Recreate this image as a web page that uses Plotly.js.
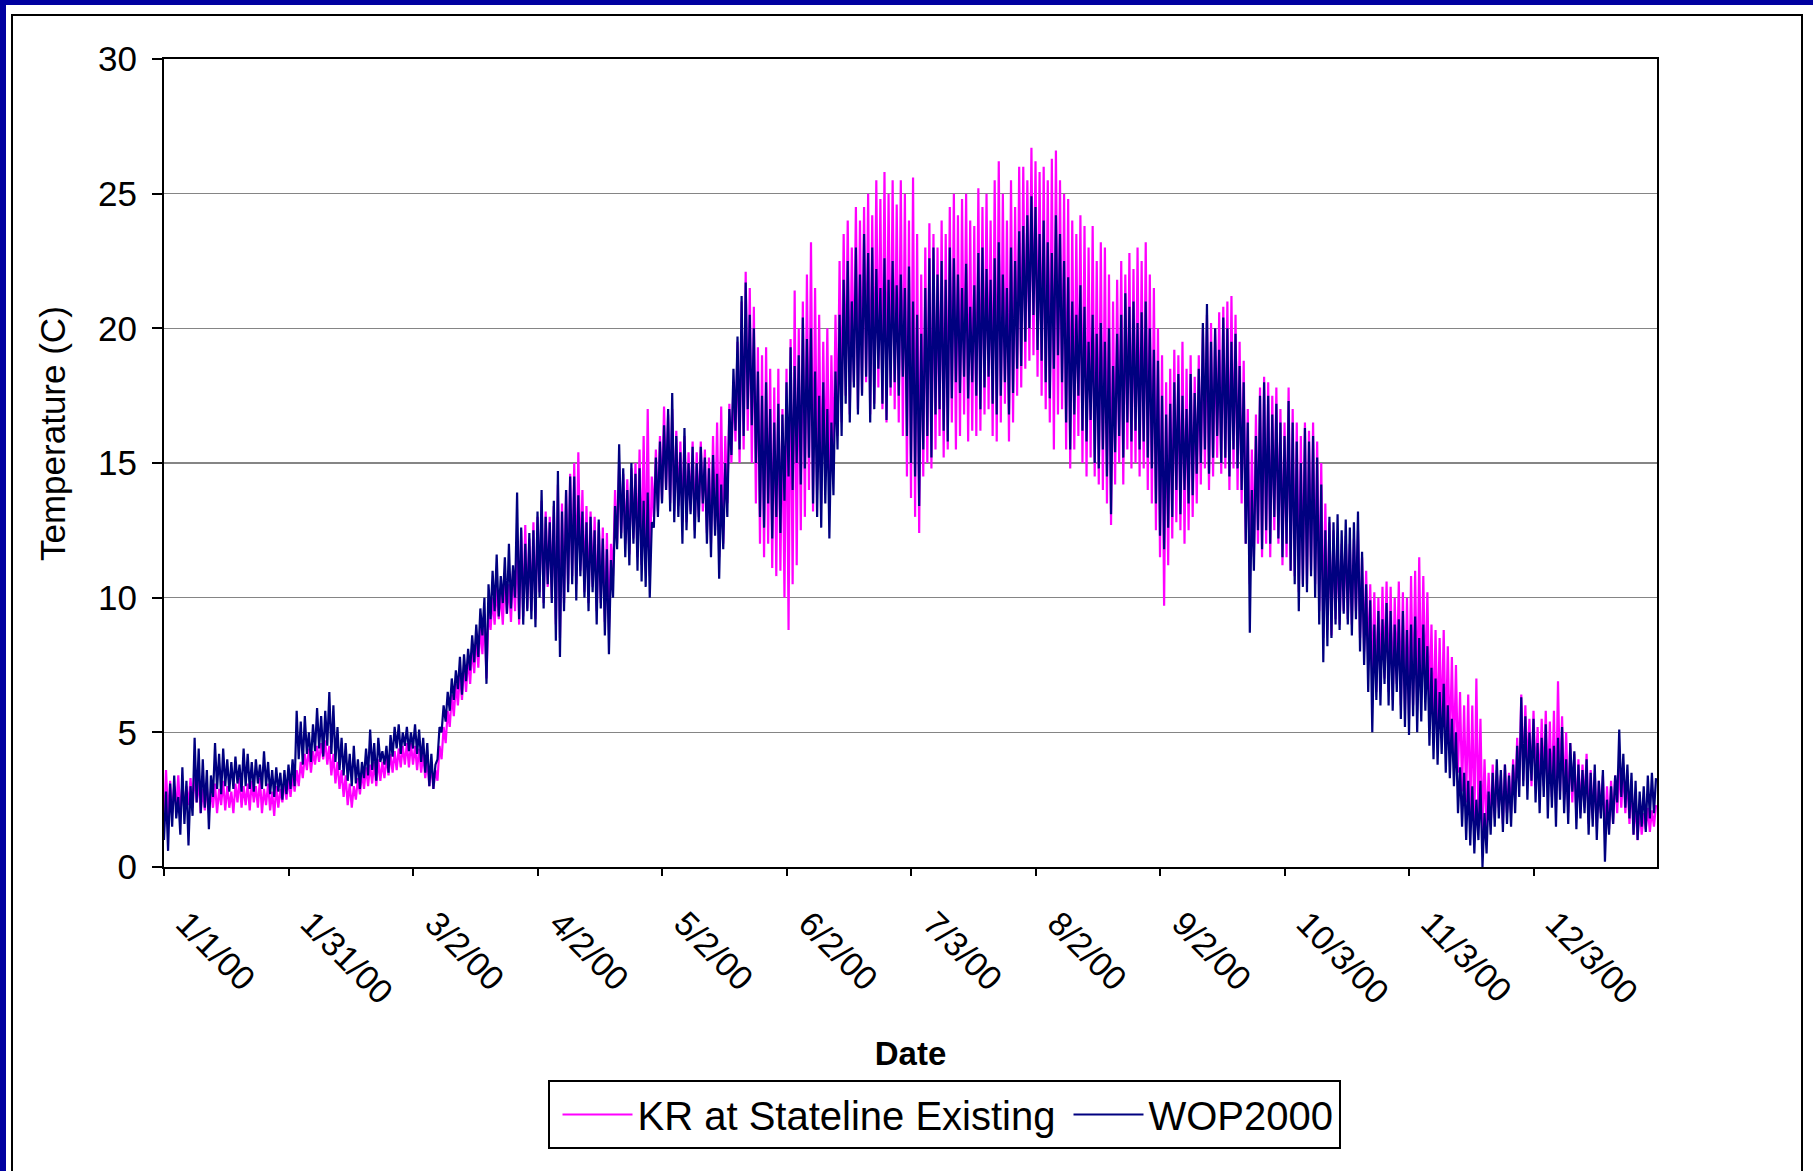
<!DOCTYPE html>
<html>
<head>
<meta charset="utf-8">
<script src="https://cdn.plot.ly/plotly-3.0.1.min.js"></script>
<style>html,body{margin:0;padding:0;background:#fff;}#chart{width:1813px;height:1171px;}</style>
</head>
<body>
<div id="chart"></div>
<script>
// ---- tick labels of the category axis (one tick every 30.5 days) ----
const tickLabels = ['1/1/00','1/31/00','3/2/00','4/2/00','5/2/00','6/2/00','7/3/00','8/2/00','9/2/00','10/3/00','11/3/00','12/3/00'];
const tickDays = [0,30.5,61,91.5,122,152.5,183,213.5,244,274.5,305,335.5];

// ---- WOP2000: daily low / high (deg C), day 0 = 1/1/00 ----
const wopLow = [
1.0,0.6,1.5,1.8,1.2,1.6,0.8,1.9,2.4,2.0,
2.2,1.4,2.6,2.9,2.7,3.0,2.8,2.9,3.1,2.8,
3.0,2.9,2.8,3.1,2.9,3.0,2.7,2.6,2.8,2.5,
2.7,2.9,3.0,4.0,3.8,4.2,3.9,4.3,4.4,4.1,
4.5,4.2,3.9,3.6,3.4,3.2,3.0,3.1,2.9,3.3,
3.4,3.6,3.2,3.9,3.8,3.5,4.1,4.4,4.2,4.5,
4.3,4.4,4.2,3.9,3.5,3.0,2.9,4.0,5.0,5.4,
5.8,6.2,6.6,6.4,6.9,7.3,7.6,7.8,8.6,6.8,
9.2,9.5,9.3,9.8,9.4,9.6,10.0,9.2,9.0,9.5,
9.2,8.9,10.0,9.6,10.5,9.8,8.4,7.8,9.5,10.2,
10.5,9.9,10.8,10.0,9.5,10.2,9.0,9.6,8.6,7.9,
10.0,11.8,12.2,11.5,11.2,12.0,11.0,10.6,10.4,10.0,
12.6,13.0,13.5,14.0,13.2,12.8,13.0,12.0,12.5,13.1,
12.2,12.8,13.5,12.0,11.5,12.3,10.7,11.8,13.0,15.3,
16.2,15.5,16.0,17.0,16.4,15.0,13.0,12.6,13.5,12.2,
13.0,12.4,13.6,14.5,14.0,15.0,14.2,14.8,15.2,13.5,
13.0,12.6,13.5,12.2,13.8,15.5,16.0,17.2,16.5,17.8,
16.8,17.5,18.2,16.5,17.0,18.5,17.2,16.6,17.8,18.0,
17.5,18.2,16.0,15.0,14.5,13.4,15.5,16.0,15.2,16.8,
17.0,16.2,15.8,17.4,18.0,17.6,18.2,17.4,18.0,17.5,
17.0,17.8,18.2,17.2,16.8,17.5,18.0,16.8,17.6,18.5,
18.6,19.5,20.0,20.5,19.2,18.8,18.0,17.4,18.5,19.0,
18.0,16.5,15.5,16.8,17.5,16.2,15.8,16.6,15.0,14.8,
15.5,14.5,13.1,15.4,16.0,15.2,16.5,15.8,16.2,15.5,
15.8,15.2,14.8,13.5,12.3,11.8,12.6,13.0,14.0,13.1,
14.0,13.5,13.8,14.6,15.0,15.5,14.6,15.2,16.0,15.0,
15.2,14.5,15.5,14.8,14.0,12.0,8.7,11.0,12.5,11.8,
12.5,12.0,13.0,12.2,11.5,12.0,11.0,10.5,9.5,10.4,
10.2,10.8,10.0,9.0,7.6,8.2,8.5,9.0,8.8,9.4,
9.0,8.6,9.2,8.0,7.5,6.5,5.0,6.2,6.0,6.8,
6.0,5.8,6.5,5.5,5.2,4.9,5.6,5.0,5.4,5.8,
4.5,4.0,3.8,4.2,3.5,3.3,3.0,2.0,1.5,1.0,
0.8,0.5,1.0,0.0,0.5,1.2,1.5,1.8,1.3,1.6,
1.5,2.0,2.6,3.0,2.5,3.2,2.4,2.0,2.6,1.8,
2.2,1.5,2.5,2.0,1.6,2.8,1.4,1.8,2.0,1.2,
1.5,1.0,1.8,0.2,1.2,1.6,2.4,2.6,2.2,1.8,
1.2,1.0,1.5,1.3,1.8,2.0];
const wopHigh = [
2.8,3.1,3.4,2.6,3.7,3.2,3.0,4.8,4.4,4.0,
3.6,3.4,4.6,4.2,4.4,4.0,3.9,4.1,3.8,4.4,
4.2,3.9,4.0,3.8,4.3,3.9,3.6,3.7,3.5,3.6,
3.8,4.0,5.8,5.4,5.6,5.0,5.3,5.9,5.6,5.8,
6.5,6.0,5.2,4.8,4.6,4.2,4.5,4.0,3.9,4.4,
5.1,4.6,4.8,4.3,4.5,4.9,5.2,5.3,5.0,5.2,
5.0,5.3,5.1,4.8,4.6,4.2,3.8,5.2,6.0,6.5,
7.0,7.3,7.8,7.9,8.1,8.6,9.0,9.6,10.0,10.5,
11.0,11.6,10.8,11.5,12.0,11.2,13.9,12.6,12.0,12.4,
12.5,13.2,14.0,13.0,12.8,13.6,14.7,13.2,14.0,14.5,
14.5,13.8,13.2,12.8,13.0,12.5,12.9,12.2,11.8,11.4,
13.4,15.7,14.8,14.0,15.0,14.6,14.8,13.6,13.9,12.8,
15.2,15.8,16.4,17.0,17.6,16.0,15.4,16.3,15.0,15.6,
15.0,15.6,15.2,14.8,15.3,14.6,14.2,15.0,17.0,18.5,
19.7,21.2,21.7,20.5,20.0,18.4,17.5,18.0,17.0,16.5,
17.2,16.8,18.0,19.3,18.6,19.0,20.4,19.6,20.0,18.4,
17.5,18.0,17.0,16.5,18.4,20.5,21.8,22.5,21.0,23.0,
22.0,23.5,22.8,23.0,22.2,21.5,22.6,21.8,22.5,21.6,
22.0,21.5,22.3,21.0,20.5,19.8,21.5,22.6,23.0,22.0,
22.5,21.8,23.0,22.6,22.0,21.5,22.4,20.8,21.6,22.8,
23.0,22.2,21.8,22.6,23.2,22.0,21.5,23.0,22.5,23.6,
23.8,24.2,24.9,24.5,23.5,24.0,23.2,22.8,24.2,23.5,
22.5,21.9,21.0,20.5,21.6,20.8,19.5,20.5,19.8,20.2,
19.5,20.0,18.6,19.8,20.5,21.3,20.8,21.0,20.2,20.6,
21.0,20.0,19.2,18.8,17.5,16.8,17.2,18.0,18.3,17.5,
17.0,18.3,17.6,18.5,20.2,20.9,19.5,20.0,19.2,20.4,
20.0,19.5,19.8,18.6,18.0,16.5,14.0,16.0,17.5,18.0,
17.5,16.8,17.2,16.5,16.0,17.3,16.5,15.8,15.0,16.3,
15.8,16.0,15.2,14.2,12.5,13.0,12.8,13.1,12.5,12.9,
12.6,12.8,13.2,11.7,10.5,9.9,9.0,9.5,9.2,9.8,
9.5,9.0,9.2,9.5,8.8,9.0,9.3,8.5,9.0,8.2,
7.4,7.0,6.5,6.8,6.0,5.5,5.0,3.7,3.5,3.2,
3.0,2.5,3.2,2.0,2.8,3.5,4.0,3.6,3.8,3.4,
3.8,4.5,6.3,5.6,5.0,5.5,4.6,4.8,5.3,4.4,
4.5,4.8,5.2,4.0,4.6,4.3,3.8,3.6,4.0,3.5,
3.8,3.2,3.6,2.5,3.0,3.4,5.1,4.2,3.8,3.5,
3.2,2.8,3.0,3.4,3.5,3.3];

// ---- KR at Stateline Existing: daily low / high (deg C) ----
const krLow = [
1.5,1.8,2.0,2.2,1.9,2.1,2.3,2.2,2.4,2.0,
2.1,2.0,2.2,2.0,2.3,2.1,2.2,2.0,2.4,2.2,
2.3,2.1,2.4,2.2,2.0,2.3,2.1,1.9,2.2,2.4,
2.5,2.6,2.8,3.0,3.3,3.6,3.5,3.8,3.9,4.0,
3.8,3.4,3.1,2.9,2.6,2.3,2.2,2.5,2.7,2.9,
3.0,3.1,3.0,3.2,3.3,3.4,3.5,3.6,3.7,3.8,
3.7,3.8,3.6,3.5,3.3,3.0,2.9,3.2,4.0,4.6,
5.2,5.6,6.0,6.2,6.5,6.8,7.2,7.4,7.9,7.0,
8.8,9.0,9.2,9.0,9.4,9.1,9.5,9.0,9.3,9.6,
9.5,9.2,10.2,9.8,10.4,10.0,9.0,8.5,9.8,10.5,
10.8,10.5,11.0,10.2,9.8,10.4,9.5,9.8,9.1,8.8,
10.8,12.0,12.4,12.0,11.6,12.2,11.5,11.2,11.0,10.8,
13.0,13.2,13.6,14.0,13.5,13.2,13.4,12.8,12.8,13.2,
12.5,13.0,13.2,12.4,12.0,12.5,11.5,12.0,13.5,15.0,
15.8,15.0,15.5,16.2,15.0,13.5,12.0,11.5,12.0,11.1,
10.8,11.0,10.0,8.8,10.5,11.2,12.5,13.0,14.0,13.2,
14.0,13.5,14.5,13.6,14.8,16.0,16.5,17.5,16.8,18.0,
17.0,17.6,18.0,16.8,17.2,17.8,17.0,16.5,17.5,17.0,
16.5,16.0,14.5,13.7,13.0,12.4,14.5,15.0,14.8,15.5,
16.0,15.2,15.5,16.5,15.5,16.0,16.8,15.8,16.2,16.0,
16.2,16.8,17.0,16.0,15.8,16.5,17.2,15.8,16.5,17.5,
17.8,18.5,18.8,19.0,18.2,17.5,17.0,16.5,15.5,16.8,
17.0,15.5,14.8,15.5,16.0,15.0,14.5,15.2,14.5,14.2,
14.0,13.5,12.7,14.2,15.0,14.2,15.5,14.8,15.0,14.5,
14.8,14.0,13.5,12.5,11.5,9.7,11.2,12.2,12.8,12.5,
12.0,12.5,13.0,13.5,14.2,14.8,14.0,14.5,15.2,14.6,
14.8,14.0,14.8,14.0,13.5,12.0,10.5,11.5,12.0,11.5,
12.0,11.5,12.5,12.0,11.2,11.5,11.0,10.8,10.2,10.5,
10.5,11.0,10.5,9.5,8.5,8.8,8.6,9.2,9.0,9.5,
9.2,9.0,9.5,8.5,8.0,7.5,6.8,6.5,6.8,7.0,
6.5,6.2,6.8,6.0,5.8,5.5,6.0,5.8,6.2,6.4,
5.8,5.2,4.8,5.0,4.5,4.3,4.0,3.5,2.8,2.4,
2.0,1.5,1.8,1.2,1.4,1.5,1.8,2.2,1.6,2.0,
2.0,2.5,3.0,3.2,3.5,3.0,3.2,2.8,3.0,2.8,
2.6,2.2,2.8,2.5,2.0,2.4,1.8,2.0,2.2,1.6,
1.8,1.5,2.0,1.2,1.4,1.6,2.0,2.2,2.0,1.6,
1.2,1.0,1.2,1.4,1.3,1.5];
const krHigh = [
3.6,3.2,3.0,3.4,3.1,3.0,3.3,3.5,3.2,2.9,
3.0,2.8,3.1,2.9,3.2,3.0,2.8,3.1,3.3,3.0,
3.1,3.2,3.0,3.3,2.9,3.1,2.8,3.0,2.9,3.2,
3.3,3.4,3.6,3.9,4.2,4.4,4.3,4.5,4.6,4.7,
4.5,4.2,3.9,3.6,3.4,3.1,3.0,3.3,3.5,3.7,
3.8,3.9,4.0,3.9,4.1,4.2,4.3,4.4,4.5,4.6,
4.6,4.5,4.4,4.2,4.0,3.8,3.6,4.5,5.2,5.8,
6.4,6.8,7.2,7.5,7.8,8.2,8.6,9.0,9.4,9.6,
10.0,10.4,10.2,10.8,10.5,11.0,12.0,12.5,12.7,12.2,
12.8,13.0,13.6,13.2,13.0,13.4,14.2,13.5,14.0,14.6,
15.0,15.4,14.0,13.4,13.2,13.0,12.8,12.6,12.4,12.0,
14.0,15.0,14.6,14.4,14.8,15.0,15.5,16.0,17.0,14.5,
15.5,16.0,17.1,16.8,17.0,16.2,15.8,16.0,15.4,15.8,
15.4,15.8,15.5,15.2,16.0,16.5,17.1,16.0,17.2,18.0,
19.5,21.0,22.1,21.5,20.8,19.3,19.0,19.3,18.5,17.8,
18.5,17.0,18.5,19.6,21.4,20.0,21.0,22.0,23.2,21.5,
20.5,19.5,20.0,19.0,20.5,22.5,23.5,24.0,23.0,24.5,
24.0,24.5,25.0,24.2,25.5,24.8,25.8,25.0,25.5,24.6,
25.5,25.0,24.0,25.6,23.5,22.0,23.0,23.9,23.5,23.0,
24.0,23.5,24.5,25.0,24.2,24.8,25.0,24.0,23.8,25.2,
24.5,25.0,24.0,25.5,26.2,25.0,24.0,25.5,24.5,26.0,
26.0,25.5,26.7,26.2,25.8,26.0,25.5,26.3,26.6,25.5,
25.0,24.8,24.0,23.5,24.2,23.8,23.0,23.8,22.5,23.2,
23.0,22.0,21.0,21.8,22.5,22.0,22.8,22.2,23.0,22.5,
23.2,22.0,21.5,20.0,19.0,18.0,18.5,19.2,19.0,19.5,
18.5,19.0,18.2,19.0,20.0,20.5,20.2,20.0,20.6,20.8,
21.0,21.2,20.5,19.5,18.8,17.0,15.5,16.8,17.8,18.2,
18.0,17.5,17.8,17.0,16.5,17.8,17.0,16.5,16.0,16.5,
16.2,16.5,15.8,15.0,13.5,12.8,12.5,12.2,12.0,12.3,
12.0,12.2,12.5,11.5,11.0,10.5,10.2,10.0,10.4,10.6,
10.4,10.0,10.6,10.2,10.0,10.8,11.0,11.5,10.8,10.2,
9.0,8.8,8.5,8.8,8.2,7.8,7.5,6.5,6.0,6.4,
6.0,7.0,5.5,4.0,3.5,3.8,3.6,3.4,3.8,3.5,
4.0,4.8,6.4,6.0,5.5,5.8,5.2,5.5,5.8,5.4,
5.8,6.9,5.6,5.0,4.6,4.2,4.0,3.8,4.2,3.6,
3.5,3.2,3.4,3.0,3.2,3.4,3.8,3.6,3.4,3.2,
2.4,2.2,2.0,2.2,2.1,2.3];

// ---- build the line traces: each day = low reading, then high reading ----
function build(lows, highs) {
  const x = [], y = [];
  for (let d = 0; d < lows.length; d++) {
    x.push(d); y.push(lows[d]);
    x.push(d + 0.5); y.push(highs[d]);
  }
  return {x, y};
}
const kr = build(krLow, krHigh);
const wop = build(wopLow, wopHigh);

const FONT = 'Liberation Sans, Arial, sans-serif';
// plot-area pixel box (for placing frame shapes and the rotated title)
const L = 164, R = 1657, T = 59, B = 867;
const px = v => (v - L) / (R - L);
const py = v => (B - v) / (B - T);

const traces = [
  {x: kr.x, y: kr.y, type: 'scatter', mode: 'lines', name: 'KR at Stateline Existing',
   line: {color: '#FF00FF', width: 2.2}},
  {x: wop.x, y: wop.y, type: 'scatter', mode: 'lines', name: 'WOP2000',
   line: {color: '#000080', width: 2.2}}
];

const layout = {
  width: 1813, height: 1171,
  margin: {l: L, r: 1813 - R, t: T, b: 1171 - B, pad: 0},
  paper_bgcolor: '#fff', plot_bgcolor: '#fff',
  font: {family: FONT, color: '#000', size: 33},
  showlegend: true,
  xaxis: {
    range: [0, 365.75], tickmode: 'array', tickvals: tickDays, ticktext: tickLabels,
    tickangle: 45, ticks: 'outside', ticklen: 7, tickwidth: 2, tickcolor: '#000',
    showline: true, linecolor: '#000', linewidth: 2, mirror: true,
    showgrid: false, zeroline: false,
    tickfont: {family: FONT, size: 34, color: '#000'},
    ticklabelstandoff: 14, ticklabelshift: 22,
    title: {text: '<b>Date</b>', font: {family: FONT, size: 33, color: '#000'}, standoff: 32}
  },
  xaxis2: {
    overlaying: 'x', matches: 'x', anchor: 'y', side: 'bottom',
    range: [0, 365.75], tickmode: 'array', tickvals: tickDays,
    ticks: 'inside', ticklen: 6, tickwidth: 2, tickcolor: '#000',
    showticklabels: false, showline: false, showgrid: false, zeroline: false
  },
  yaxis: {
    range: [0, 30], tickmode: 'array', tickvals: [0,5,10,15,20,25,30],
    ticks: 'outside', ticklen: 10, tickwidth: 2, tickcolor: '#000',
    showline: true, linecolor: '#000', linewidth: 2, mirror: true,
    showgrid: true, gridcolor: '#858585', gridwidth: 1.5, zeroline: false,
    tickfont: {family: FONT, size: 35, color: '#000'},
    ticklabelstandoff: 8
  },
  annotations: [
    {text: 'Temperature (C)', textangle: -90, xref: 'paper', yref: 'paper',
     x: px(52), y: py(434), xanchor: 'center', yanchor: 'middle', showarrow: false,
     font: {family: FONT, size: 35, color: '#000'}}
  ],
  legend: {
    orientation: 'h', x: px(944), xanchor: 'center', y: py(1080), yanchor: 'top',
    bordercolor: '#000', borderwidth: 2, bgcolor: '#fff', itemwidth: 70, indentation: 8,
    font: {family: FONT, size: 40, color: '#000'}
  },
  shapes: [
    {type: 'rect', xref: 'paper', yref: 'paper', x0: px(12), x1: px(1802), y0: py(15), y1: py(1200),
     line: {color: '#000', width: 2}, fillcolor: 'rgba(0,0,0,0)', layer: 'below'},
    {type: 'rect', xref: 'paper', yref: 'paper', x0: px(-5), x1: px(1820), y0: py(-5), y1: py(5),
     line: {width: 0}, fillcolor: '#0000A0'},
    {type: 'rect', xref: 'paper', yref: 'paper', x0: px(-5), x1: px(6), y0: py(-5), y1: py(1180),
     line: {width: 0}, fillcolor: '#0000A0'}
  ]
};

Plotly.newPlot('chart', traces, layout, {displayModeBar: false, staticPlot: true});
</script>
</body>
</html>
